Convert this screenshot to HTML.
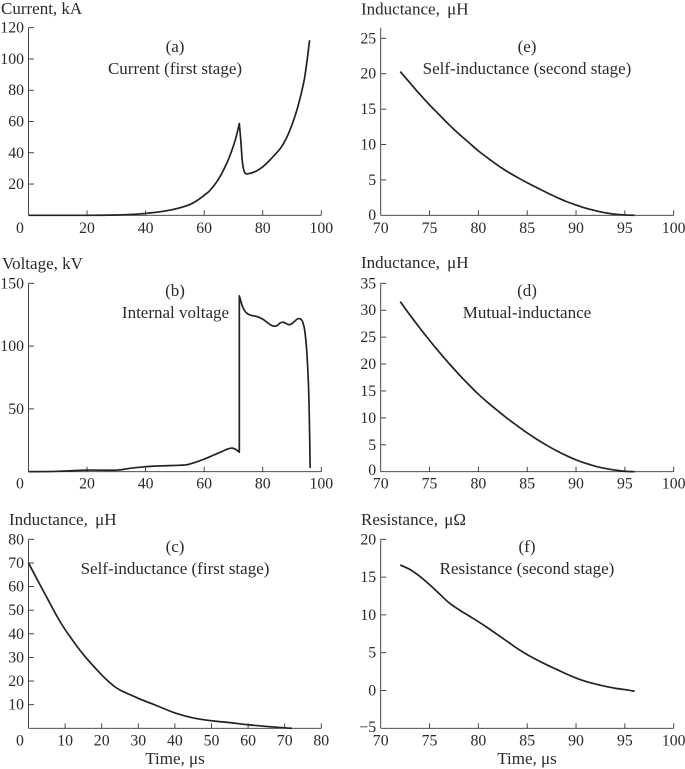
<!DOCTYPE html>
<html lang="en">
<head>
<meta charset="utf-8">
<title>Current, voltage, inductance and resistance charts</title>
<style>
  html, body { margin: 0; padding: 0; background: #fff; }
  svg { display: block; }
  text { font-family: "Liberation Serif", serif; font-size: 17px; fill: #2a2a2a; }
  .tick-label { font-size: 15.8px; }
  .mid { text-anchor: middle; }
</style>
</head>
<body>
<svg id="figure" xmlns="http://www.w3.org/2000/svg" width="685" height="769" viewBox="0 0 685 769">
  <g id="panel-a">
    <text x="1" y="14">Current, kA</text>
    <text class="mid" x="175" y="52">(a)</text>
    <text class="mid" x="175" y="74">Current (first stage)</text>
  </g>
  <g id="panel-b">
    <text x="2" y="269">Voltage, kV</text>
    <text class="mid" x="175" y="296">(b)</text>
    <text class="mid" x="175.5" y="318">Internal voltage</text>
  </g>
  <g id="panel-c">
    <text x="9" y="525">Inductance, <tspan dx="3">μH</tspan></text>
    <text class="mid" x="175" y="552">(c)</text>
    <text class="mid" x="175" y="574">Self-inductance (first stage)</text>
    <text class="mid" x="175" y="764">Time, μs</text>
  </g>
  <g id="panel-e">
    <text x="361" y="14.5">Inductance, <tspan dx="3">μH</tspan></text>
    <text class="mid" x="527" y="52">(e)</text>
    <text class="mid" x="527" y="74">Self-inductance (second stage)</text>
  </g>
  <g id="panel-d">
    <text x="361" y="268">Inductance, <tspan dx="3">μH</tspan></text>
    <text class="mid" x="527" y="296">(d)</text>
    <text class="mid" x="527" y="318">Mutual-inductance</text>
  </g>
  <g id="panel-f">
    <text x="361" y="525">Resistance, <tspan dx="2">μΩ</tspan></text>
    <text class="mid" x="527" y="552">(f)</text>
    <text class="mid" x="527" y="574">Resistance (second stage)</text>
    <text class="mid" x="527" y="764">Time, μs</text>
  </g>
</svg>
<script>
// Panel (a) current
const aTime = [0,20,30,35,40,45,50,55,58,60,62,65,68,70,71,72,72.5,73,73.5,74,74.5,76,78,80,82,84,86,88,90,92,94,95,96];
const aCurrent = [0,0,0.2,0.5,1.2,2.3,4,6.8,10,12.8,16,23.5,34.5,44.5,50.8,58.7,48,35,29,27,26.5,27,28.5,31,34.5,38.5,42.7,49,58,69.5,85,97,112];
const aXTicks = [0,20,40,60,80,100];
const aYTicks = [20,40,60,80,100,120];

// Panel (b) internal voltage
const bTime = [0,10,20,30,35,40,45,50,54,57,60,63,66,68,69.5,71,72,72,72.5,73,74,75,76,78,80,82,83,84,85,86,87,88,89,90,91,92,93,93.6,94.3,95,95.6,95.9,96.2];
const bVoltage = [0,0.3,1.3,1.2,2.8,4,4.6,5,5.5,7.5,10,13,16,18,18.8,17.5,15.5,140,136,132,127.5,125.5,124.5,123.5,121.5,118,116.5,115.8,116.5,118.5,119,118,117,118,120,121.8,121.5,119.5,113,97,70,44,3];
const bXTicks = [0,20,40,60,80,100];
const bYTicks = [50,100,150];

// Panel (c) self-inductance, first stage
const cTime = [0,2.5,5,7.5,10,15,20,23,25,30,35,40,45,50,55,60,65,70,72];
const cInductance = [70,62.6,55.4,48.2,41.8,31.2,22.6,18.3,16.2,12.7,9.6,6.5,4.4,3.2,2.4,1.5,0.8,0.2,0];
const cXTicks = [0,10,20,30,40,50,60,70,80];
const cYTicks = [10,20,30,40,50,60,70,80];

// Panel (e) self-inductance, second stage
const eTime = [72,73,74,75,76,77,78,79,80,81,82,83,84,85,86,87,88,89,90,91,92,93,94,95,96];
const eInductance = [20.3,18.7,17.1,15.6,14.2,12.8,11.5,10.3,9.1,8.05,7.05,6.15,5.35,4.6,3.9,3.2,2.55,1.95,1.45,1,0.65,0.35,0.15,0.05,0];
const eXTicks = [70,75,80,85,90,95,100];
const eYTicks = [0,5,10,15,20,25];

// Panel (d) mutual-inductance
const dTime = [72,73,74,75,76,77,78,79,80,81,82,83,84,85,86,87,88,89,90,91,92,93,94,95,96];
const dInductance = [31.6,29.1,26.7,24.4,22.2,20.1,18.1,16.2,14.4,12.8,11.3,9.85,8.5,7.2,6,4.9,3.9,3,2.2,1.55,1,0.6,0.3,0.08,0];
const dXTicks = [70,75,80,85,90,95,100];
const dYTicks = [0,5,10,15,20,25,30,35];

// Panel (f) resistance, second stage
const fTime = [72,73,74,75,76,77,78,79,80,81,82,83,84,85,86,87,88,89,90,91,92,93,94,95,96];
const fResistance = [16.6,16,15.1,14,12.8,11.6,10.7,9.9,9.1,8.25,7.35,6.45,5.55,4.75,4.05,3.4,2.8,2.2,1.65,1.2,0.85,0.55,0.3,0.12,-0.1];
const fXTicks = [70,75,80,85,90,95,100];
const fYTicks = [-5,0,5,10,15,20];

const SVG_NS = 'http://www.w3.org/2000/svg';
const AXIS_COLOR = '#333';
const CURVE_COLOR = '#222';

function linearScale(domainMin, domainMax, pxMin, pxMax) {
  return function (v) {
    return pxMin + (v - domainMin) * (pxMax - pxMin) / (domainMax - domainMin);
  };
}

function drawAxisLine(group, x1, y1, x2, y2, name) {
  const el = document.createElementNS(SVG_NS, 'line');
  el.setAttribute('x1', x1);
  el.setAttribute('y1', y1);
  el.setAttribute('x2', x2);
  el.setAttribute('y2', y2);
  el.setAttribute('stroke', AXIS_COLOR);
  el.setAttribute('stroke-width', '0.9');
  
  
  group.appendChild(el);
}

function drawLabel(group, x, y, anchor, content, name) {
  const el = document.createElementNS(SVG_NS, 'text');
  el.setAttribute('x', x);
  el.setAttribute('y', y);
  el.setAttribute('text-anchor', anchor);
  el.setAttribute('class', 'tick-label');
  
  
  el.textContent = content;
  group.appendChild(el);
}

// Smooth path through the points; corners stay sharp where a run ends.
function smoothRun(pts) {
  let d = '';
  for (let i = 0; i < pts.length - 1; i++) {
    const p0 = pts[Math.max(i - 1, 0)];
    const p1 = pts[i];
    const p2 = pts[i + 1];
    const p3 = pts[Math.min(i + 2, pts.length - 1)];
    const c1x = p1[0] + (p2[0] - p0[0]) / 6;
    const c1y = p1[1] + (p2[1] - p0[1]) / 6;
    const c2x = p2[0] - (p3[0] - p1[0]) / 6;
    const c2y = p2[1] - (p3[1] - p1[1]) / 6;
    d += 'C' + c1x.toFixed(2) + ' ' + c1y.toFixed(2) + ' ' + c2x.toFixed(2) + ' ' + c2y.toFixed(2) + ' ' + p2[0].toFixed(2) + ' ' + p2[1].toFixed(2);
  }
  return d;
}

function buildPath(pts, cornerAtTimes, xs) {
  const corners = [];
  xs.forEach(function (x, i) {
    if (i > 0 && i < xs.length - 1 && cornerAtTimes.indexOf(x) !== -1) {
      corners.push(i);
    }
  });
  let d = 'M' + pts[0][0].toFixed(2) + ' ' + pts[0][1].toFixed(2);
  let start = 0;
  corners.concat([pts.length - 1]).forEach(function (end) {
    d += smoothRun(pts.slice(start, end + 1));
    start = end;
  });
  return d;
}

function drawPanel(cfg) {
  const group = document.getElementById(cfg.id);
  const sx = linearScale(cfg.xDomain[0], cfg.xDomain[1], cfg.left, cfg.right);
  const sy = linearScale(cfg.yDomain[0], cfg.yDomain[1], cfg.bottom, cfg.top);

  drawAxisLine(group, cfg.left, cfg.bottom, cfg.right, cfg.bottom, 'x-axis');
  drawAxisLine(group, cfg.left, cfg.bottom, cfg.left, cfg.top, 'y-axis');

  cfg.xTicks.forEach(function (t) {
    const px = sx(t);
    if (t !== cfg.xDomain[0]) {
      drawAxisLine(group, px, cfg.bottom, px, cfg.bottom - 5, 'x-tick');
    }
    const shift = t === cfg.xDomain[0] ? cfg.firstXShift : 0;
    drawLabel(group, px + shift, cfg.xLabelY, 'middle', String(t), 'x-tick-label');
  });

  cfg.yTicks.forEach(function (t) {
    const py = sy(t);
    if (t !== cfg.yDomain[0]) {
      drawAxisLine(group, cfg.left, py, cfg.left + 5.5, py, 'y-tick');
    }
    const isBottom = t === cfg.yDomain[0];
    const baseline = py + (isBottom ? cfg.bottomLabelDy : 5);
    const text = t < 0 ? '\u2212' + Math.abs(t) : String(t);
    drawLabel(group, cfg.left - 4.5, baseline, 'end', text, 'y-tick-label');
  });

  const pts = cfg.xs.map(function (x, i) {
    return [sx(x), sy(cfg.ys[i])];
  });
  const curve = document.createElementNS(SVG_NS, 'path');
  curve.setAttribute('d', buildPath(pts, cfg.corners || [], cfg.xs));
  curve.setAttribute('fill', 'none');
  curve.setAttribute('stroke', CURVE_COLOR);
  curve.setAttribute('stroke-width', '1.7');
  curve.setAttribute('stroke-linejoin', 'round');
  
  
  group.appendChild(curve);
}

const leftFrame = { left: 28.5, right: 321.3, firstXShift: -8.5 };
const rightFrame = { left: 380.7, right: 673.7, firstXShift: 0 };

drawPanel(Object.assign({}, leftFrame, {
  id: 'panel-a', xs: aTime, ys: aCurrent, xTicks: aXTicks, yTicks: aYTicks, corners: [72],
  xDomain: [0, 100], yDomain: [0, 120], bottom: 215.3, top: 27.7, xLabelY: 233, bottomLabelDy: 5
}));
drawPanel(Object.assign({}, leftFrame, {
  id: 'panel-b', xs: bTime, ys: bVoltage, xTicks: bXTicks, yTicks: bYTicks, corners: [72],
  xDomain: [0, 100], yDomain: [0, 150], bottom: 471.7, top: 283.3, xLabelY: 488.7, bottomLabelDy: 5
}));
drawPanel(Object.assign({}, leftFrame, {
  id: 'panel-c', xs: cTime, ys: cInductance, xTicks: cXTicks, yTicks: cYTicks,
  xDomain: [0, 80], yDomain: [0, 80], bottom: 728.3, top: 539.3, xLabelY: 745.7, bottomLabelDy: 5
}));
drawPanel(Object.assign({}, rightFrame, {
  id: 'panel-e', xs: eTime, ys: eInductance, xTicks: eXTicks, yTicks: eYTicks,
  xDomain: [70, 100], yDomain: [0, 26.5], bottom: 215.3, top: 27.7, xLabelY: 233, bottomLabelDy: 4.7
}));
drawPanel(Object.assign({}, rightFrame, {
  id: 'panel-d', xs: dTime, ys: dInductance, xTicks: dXTicks, yTicks: dYTicks,
  xDomain: [70, 100], yDomain: [0, 35], bottom: 471.7, top: 283.3, xLabelY: 488.7, bottomLabelDy: 3.5
}));
drawPanel(Object.assign({}, rightFrame, {
  id: 'panel-f', xs: fTime, ys: fResistance, xTicks: fXTicks, yTicks: fYTicks,
  xDomain: [70, 100], yDomain: [-5, 20], bottom: 728.3, top: 539.3, xLabelY: 745.7, bottomLabelDy: 3.5
}));
</script>
</body>
</html>
